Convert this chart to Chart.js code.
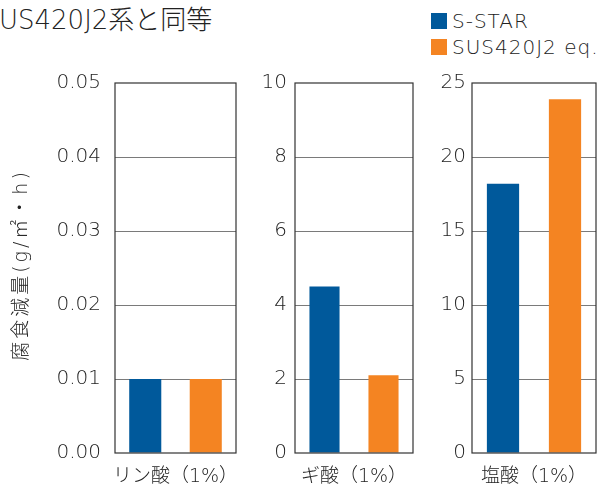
<!DOCTYPE html>
<html>
<head>
<meta charset="utf-8">
<script src="https://cdn.jsdelivr.net/npm/chart.js@4.4.1/dist/chart.umd.min.js"></script>
<style>
  body { margin: 0; background: #fff; }
  #wrap { position: relative; width: 601px; height: 485px; overflow: hidden;
          font-family: "DejaVu Sans", "Noto Sans CJK JP", sans-serif; font-weight: 200; color: #222; }
  #wrap canvas { position: absolute; top: 0; }
  .title { position: absolute; left: -1px; top: -1px; font-size: 26px; white-space: nowrap; }
  .leg { position: absolute; left: 431px; font-size: 20px; letter-spacing: 1px; white-space: nowrap; line-height: 22px; }
  .leg span { display: inline-block; width: 16px; height: 16px; vertical-align: -1px; margin-right: 5px; }
  .ytitle { position: absolute; left: 20px; top: 265px; width: 260px; margin-left: -130px; text-align: center;
            font-size: 19px; letter-spacing: 3px; line-height: 22px; margin-top: -11px;
            transform: rotate(-90deg); white-space: nowrap; }
</style>
</head>
<body>
<div id="wrap">
  <div class="title">US420J2系と同等</div>
  <div class="leg" style="top:10px"><span style="background:#00599b"></span>S-STAR</div>
  <div class="leg" style="top:36px"><span style="background:#f48422"></span>SUS420J2 eq.</div>
  <canvas id="c0" width="240" height="485" style="left:0"></canvas>
  <canvas id="c1" width="175" height="485" style="left:240px"></canvas>
  <canvas id="c2" width="186" height="485" style="left:415px"></canvas>
  <div class="ytitle" id="ytitle"></div>
</div>
<script>
// data
const categories = ["リン酸（1%）", "ギ酸（1%）", "塩酸（1%）"];
const seriesNames = ["S-STAR", "SUS420J2 eq."];
const sStar = [0.01, 4.5, 18.2];
const sus420 = [0.01, 2.1, 23.9];
const axisMax = [0.05, 10, 25];
const axisStep = [0.01, 2, 5];
const tickDigits = [2, 0, 0];
const yTitle = "腐食減量(g/㎡・h)";

document.getElementById("ytitle").textContent = yTitle;

// panel layout
const panels = [
  { yWidth: 115, padRight: 4, tickPad: 14, barPct: 0.53 },
  { yWidth: 55, padRight: 2, tickPad: 8, barPct: 0.51 },
  { yWidth: 57, padRight: 5, tickPad: 6, barPct: 0.52 },
];

const FONT = "'DejaVu Sans', 'Noto Sans CJK JP', sans-serif";

const boxPlugin = {
  id: "box",
  afterDraw(chart) {
    const { ctx, chartArea: a } = chart;
    ctx.save();
    ctx.strokeStyle = "#333";
    ctx.lineWidth = 1.2;
    ctx.strokeRect(a.left, a.top, a.right - a.left, a.bottom - a.top);
    ctx.restore();
  },
};

panels.forEach((p, i) => {
  const ctx = document.getElementById("c" + i).getContext("2d");
  new Chart(ctx, {
    type: "bar",
    data: {
      labels: [categories[i]],
      datasets: [
        { label: seriesNames[0], data: [sStar[i]], backgroundColor: "#00599b" },
        { label: seriesNames[1], data: [sus420[i]], backgroundColor: "#f48422" },
      ],
    },
    options: {
      responsive: false,
      devicePixelRatio: 1,
      animation: false,
      datasets: { bar: { categoryPercentage: 1, barPercentage: p.barPct } },
      layout: { padding: { top: 83, right: p.padRight, left: 0, bottom: 0 } },
      plugins: { legend: { display: false }, tooltip: { enabled: false } },
      scales: {
        x: {
          grid: { display: false },
          border: { display: false },
          ticks: { color: "#222", font: { family: FONT, size: 19, weight: 200 }, padding: 5, maxRotation: 0 },
          afterFit: (s) => {
            s.height = 32;
            s.paddingLeft = 0;
            s.paddingRight = 0;
          },
        },
        y: {
          min: 0,
          max: axisMax[i],
          border: { display: false },
          grid: {
            drawTicks: false,
            color: (c) => (c.index === 0 || c.tick.value >= axisMax[i] ? "rgba(0,0,0,0)" : "#7a7a7a"),
          },
          ticks: {
            stepSize: axisStep[i],
            color: "#222",
            padding: p.tickPad,
            font: { family: FONT, size: 20, weight: 200 },
            callback: (v) => Number(v).toFixed(tickDigits[i]),
          },
          afterFit: (s) => { s.width = p.yWidth; },
        },
      },
    },
    plugins: [boxPlugin],
  });
});
</script>
</body>
</html>
